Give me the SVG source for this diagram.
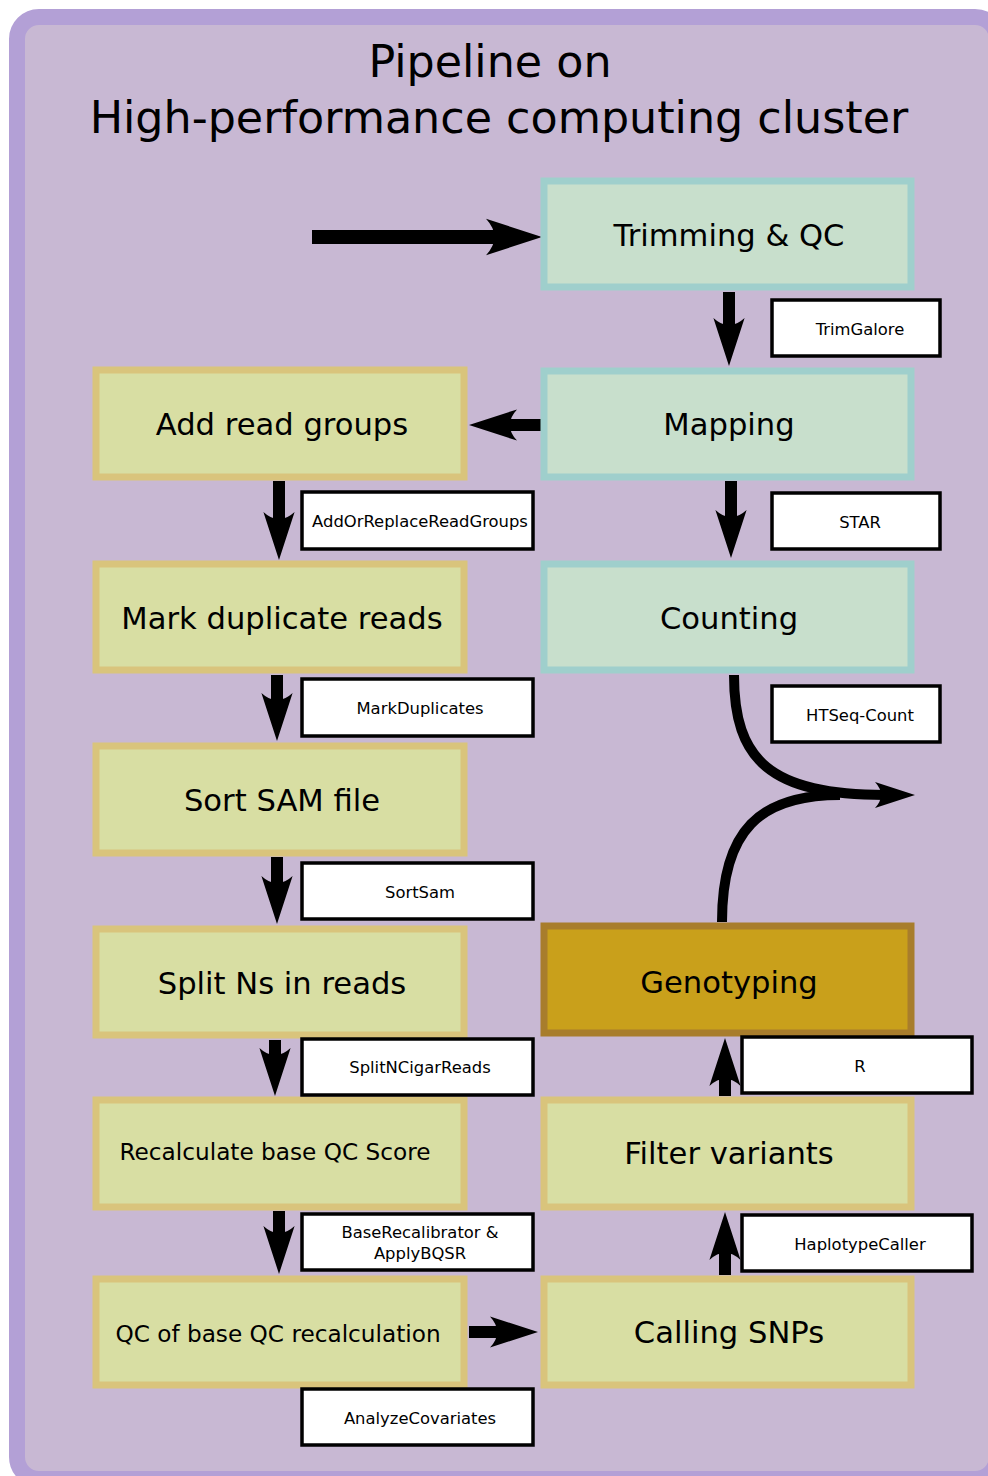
<svg xmlns="http://www.w3.org/2000/svg" width="988" height="1476" viewBox="0 0 988 1476">
<defs>
<style>
.frame{fill:#c8b8d3;stroke:#b3a0d6;stroke-width:16}
.teal{fill:#c8dfcc;stroke:#9fcfcc;stroke-width:7}
.yel{fill:#d8dea3;stroke:#d9c47c;stroke-width:7}
.gold{fill:#c9a01b;stroke:#a87d2c;stroke-width:7}
.lbl{fill:#ffffff;stroke:#000000;stroke-width:3.5}
.t{font-family:"DejaVu Sans",Verdana,sans-serif;fill:#000;text-anchor:middle;dominant-baseline:central}
.big{font-size:30.6px}
.mid{font-size:23.2px}
.sm{font-size:16.4px}
.title{font-family:"DejaVu Sans",Verdana,sans-serif;font-size:44.4px;fill:#000;text-anchor:middle}
.ar{fill:none;stroke:#000;stroke-width:12;marker-end:url(#ah)}
</style>
<marker id="ah" viewBox="0 -1.5 4.2 3" markerWidth="4.2" markerHeight="3" refX="1" refY="0" orient="auto" markerUnits="strokeWidth">
<path d="M0,-1.3 L4,0 L0,1.3 Q1.2,0 0,-1.3 z" fill="#000"/>
</marker>
</defs>
<rect class="frame" x="17" y="17" width="980" height="1462" rx="22"/>
<text class="title" x="490" y="77">Pipeline on</text>
<text class="title" x="499" y="133">High-performance computing cluster</text>

<g id="connectors">
<path class="ar" d="M312,237 H500" style="stroke-width:14"/>
<path class="ar" d="M729,292 V330"/>
<path class="ar" d="M541,425 H505"/>
<path class="ar" d="M731,481 V522"/>
<path class="ar" d="M279,481 V524"/>
<path class="ar" d="M277,675 V705"/>
<path class="ar" d="M277,857 V888"/>
<path class="ar" d="M275,1040 V1060"/>
<path class="ar" d="M279,1211 V1238"/>
<path class="ar" d="M469,1332 H502"/>
<path class="ar" d="M725,1275 V1248"/>
<path class="ar" d="M725,1096 V1074"/>
<path class="ar" d="M734,675 C734,760 770,795 885,795" style="stroke-width:10"/>
<path d="M722,922 C722,830 760,795 840,795" style="fill:none;stroke:#000;stroke-width:10"/>
</g>

<g id="trimming"><rect class="teal" x="544" y="181" width="367" height="106"/><text class="t big" x="729" y="235">Trimming &amp; QC</text></g>
<g id="mapping"><rect class="teal" x="544" y="371" width="367" height="106"/><text class="t big" x="729" y="424">Mapping</text></g>
<g id="counting"><rect class="teal" x="544" y="564" width="367" height="106"/><text class="t big" x="729" y="618">Counting</text></g>
<g id="addreadgroups"><rect class="yel" x="96" y="370" width="368" height="107"/><text class="t big" x="282" y="424">Add read groups</text></g>
<g id="markdup"><rect class="yel" x="96" y="564" width="368" height="106"/><text class="t big" x="282" y="618">Mark duplicate reads</text></g>
<g id="sortsam"><rect class="yel" x="96" y="746" width="368" height="107"/><text class="t big" x="282" y="800">Sort SAM file</text></g>
<g id="splitns"><rect class="yel" x="96" y="929" width="368" height="106"/><text class="t big" x="282" y="983">Split Ns in reads</text></g>
<g id="recalc"><rect class="yel" x="96" y="1100" width="368" height="107"/><text class="t mid" x="275" y="1151">Recalculate base QC Score</text></g>
<g id="qcrecalc"><rect class="yel" x="96" y="1279" width="368" height="106"/><text class="t mid" x="278" y="1333">QC of base QC recalculation</text></g>
<g id="genotyping"><rect class="gold" x="544" y="926" width="367" height="107"/><text class="t big" x="729" y="982">Genotyping</text></g>
<g id="filter"><rect class="yel" x="544" y="1100" width="367" height="107"/><text class="t big" x="729" y="1153">Filter variants</text></g>
<g id="calling"><rect class="yel" x="544" y="1279" width="367" height="106"/><text class="t big" x="729" y="1332">Calling SNPs</text></g>

<g id="lbl-trimgalore"><rect class="lbl" x="772" y="300" width="168" height="56"/><text class="t sm" x="860" y="329">TrimGalore</text></g>
<g id="lbl-addorreplace"><rect class="lbl" x="302" y="492" width="231" height="57"/><text class="t sm" x="420" y="521">AddOrReplaceReadGroups</text></g>
<g id="lbl-star"><rect class="lbl" x="772" y="493" width="168" height="56"/><text class="t sm" x="860" y="522">STAR</text></g>
<g id="lbl-markdup"><rect class="lbl" x="302" y="679" width="231" height="57"/><text class="t sm" x="420" y="708">MarkDuplicates</text></g>
<g id="lbl-htseq"><rect class="lbl" x="772" y="686" width="168" height="56"/><text class="t sm" x="860" y="715">HTSeq-Count</text></g>
<g id="lbl-sortsam"><rect class="lbl" x="302" y="863" width="231" height="56"/><text class="t sm" x="420" y="892">SortSam</text></g>
<g id="lbl-splitn"><rect class="lbl" x="302" y="1039" width="231" height="56"/><text class="t sm" x="420" y="1067">SplitNCigarReads</text></g>
<g id="lbl-r"><rect class="lbl" x="742" y="1037" width="230" height="56"/><text class="t sm" x="860" y="1066">R</text></g>
<g id="lbl-baserecal"><rect class="lbl" x="302" y="1214" width="231" height="56"/><text class="t sm" x="420" y="1232">BaseRecalibrator &amp;</text><text class="t sm" x="420" y="1253">ApplyBQSR</text></g>
<g id="lbl-haplotype"><rect class="lbl" x="742" y="1215" width="230" height="56"/><text class="t sm" x="860" y="1244">HaplotypeCaller</text></g>
<g id="lbl-analyze"><rect class="lbl" x="302" y="1389" width="231" height="56"/><text class="t sm" x="420" y="1418">AnalyzeCovariates</text></g>
</svg>
